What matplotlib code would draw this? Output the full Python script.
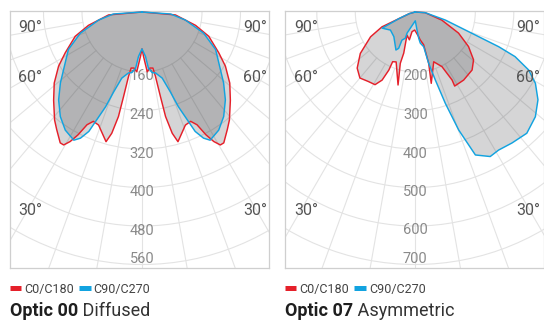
import numpy as np
import matplotlib.pyplot as plt
from matplotlib.lines import Line2D

plt.rcParams['font.family'] = ['Roboto', 'DejaVu Sans']

# gamma = degrees from nadir, cd = intensity (cd/klm), one list pair per half plane
# Optic 00 (symmetric: C180 = C0, C270 = C90)
o00_c0_gamma = [0, 2, 5, 8, 11, 11.8, 12.3, 12.7, 14, 15.5, 21, 24, 26, 27.5, 29,
                30.5, 32, 36, 39, 45, 51, 57, 62, 70, 76, 85, 90]
o00_c0_cd = [112, 128, 160, 153, 154, 172, 215, 258, 295, 315, 287, 284, 296, 323, 343,
             356, 356, 337, 324, 295, 270, 242, 216, 183, 150, 105, 35]
o00_c90_gamma = [0, 4.5, 6.5, 9.5, 12.5, 17, 19.5, 21, 23, 24, 26, 28, 33, 38, 43.5,
                 49, 63, 71, 79.5, 86, 90]
o00_c90_cd = [112, 128, 153, 163, 165, 179, 211, 246, 283, 307, 327, 337, 328, 311, 287,
              260, 207, 171, 127, 95, 35]

# Optic 07 (asymmetric)
o07_c0_gamma = [7.8, 10, 14.3, 14.6, 12.6, 20.3, 26, 28.4, 28, 35.4, 44.4, 50.6, 57,
                64, 73, 86, 90]
o07_c0_cd = [109, 118, 132, 182, 234, 182, 202, 245, 262, 261, 255, 240, 209,
             169, 116, 70, 44]
o07_c180_gamma = [2, 9.5, 12, 19.8, 15.7, 16.3, 13.3, 21, 24.5, 24.5, 26, 29, 34, 40,
                  46, 53, 61, 66, 68, 75, 90]
o07_c180_cd = [91, 96, 118, 108, 155, 183, 239, 183, 186, 210, 241, 260, 262, 268,
               254, 223, 177, 139, 90, 60, 44]
o07_c90_gamma = [5.4, 7.4, 9.1, 13.6, 14.6, 16.4, 18.2, 20.2, 22.8, 27.4, 31.1, 36.4,
                 42.6, 48.9, 54.4, 59.3, 62.9, 65.9, 67.4, 69.4, 75, 86, 90]
o07_c90_cd = [91, 113, 126, 137, 182, 228, 294, 371, 447, 467, 463, 467,
              472, 458, 436, 407, 375, 328, 279, 201, 125, 70, 44]
o07_c270_gamma = [0, 17, 21.3, 20.8, 25.4, 24.6, 27, 41, 54, 64, 68, 75, 90]
o07_c270_cd = [67, 88, 103, 117, 125, 148, 155, 129, 124, 140, 90, 60, 44]

legend_labels = ['C0/C180', 'C90/C270']
angle_labels = ['90°', '60°', '30°']

RED = '#e5202a'
BLUE = '#12a3e0'
SHADE = '#2d2e33'
GRID = '#e3e3e3'

W, H = 544, 322
fig = plt.figure(figsize=(W / 100, H / 100), dpi=100)


def polar_xy(gamma, cd, r0, side):
    g = np.radians(np.asarray(gamma, float))
    r = np.clip(np.asarray(cd, float) - r0, 0, None)
    return side * r * np.sin(g), -r * np.cos(g)


def outline(lg, lcd, rg, rcd, r0):
    xl, yl = polar_xy(lg, lcd, r0, -1)
    xr, yr = polar_xy(rg, rcd, r0, 1)
    return np.concatenate([xl[::-1], xr]), np.concatenate([yl[::-1], yr])


def panel(box, center, step, curves, label_x, title, subtitle):
    l, t, r, b = box
    cx, cy = center
    k = 38.5 / step          # px per cd/klm
    r0 = 17 / k              # radial origin offset
    ax = fig.add_axes([l / W, 1 - b / H, (r - l) / W, (b - t) / H])
    ax.set_xlim((l - cx) / k, (r - cx) / k)
    ax.set_ylim(-(b - cy) / k, (cy - t) / k)
    ax.set_autoscale_on(False)
    ax.set_xticks([])
    ax.set_yticks([])
    for s in ax.spines.values():
        s.set_color('#cfcfcf')
        s.set_linewidth(0.9)

    inner = 2 * step - r0
    for n in range(2, 8):
        ax.add_patch(plt.Circle((0, 0), n * step - r0, fill=False, ec=GRID, lw=0.8, zorder=1))
    for a in range(-80, 81, 10):
        ar = np.radians(a)
        ax.plot([inner * np.sin(ar), 3000 * np.sin(ar)], [-inner * np.cos(ar), -3000 * np.cos(ar)],
                color=GRID, lw=0.8, zorder=1)
    for n in range(2, 8):
        ypx = min((n * step - r0) * k + 4.5, (b - cy) - 9)
        ax.text(0, -ypx / k, str(n * step), ha='center', va='center', color='#8a8a8a',
                fontsize=10.5, zorder=2)

    for (lg, lcd, rg, rcd, col) in curves:
        x, y = outline(lg, lcd, rg, rcd, r0)
        ax.fill(x, y, color=SHADE, alpha=0.2, lw=0, zorder=3)
    for (lg, lcd, rg, rcd, col) in curves:
        x, y = outline(lg, lcd, rg, rcd, r0)
        ax.plot(x, y, color=col, lw=1.05, zorder=4, solid_joinstyle='round')

    for lab, yf in zip(angle_labels, [0.936, 0.741, 0.222]):
        ax.text(label_x[0], yf, lab, transform=ax.transAxes, ha='left', va='center',
                fontsize=11.5, color='#555555', zorder=5)
        ax.text(label_x[1], yf, lab, transform=ax.transAxes, ha='right', va='center',
                fontsize=11.5, color='#555555', zorder=5)

    handles = [Line2D([], [], color=RED, lw=3.6, solid_capstyle='butt'),
               Line2D([], [], color=BLUE, lw=3.6, solid_capstyle='butt')]
    ax.legend(handles, legend_labels, loc='center left', bbox_to_anchor=(l / W, 1 - 289 / H),
              bbox_transform=fig.transFigure, ncol=2, frameon=False, fontsize=9,
              handlelength=0.9, handletextpad=0.25, columnspacing=0.45, borderpad=0,
              borderaxespad=0, labelcolor='#444444')

    tt = fig.text(l / W, 1 - 316.5 / H, title, fontsize=13, fontweight='bold',
                  color='#1e1e1e', va='baseline')
    ax.annotate(' ' + subtitle, xy=(1, 0), xycoords=tt, va='bottom', ha='left',
                fontsize=13, color='#333333')


panel((9.5, 11, 269, 268), (142, 12), 80,
      [(o00_c0_gamma, o00_c0_cd, o00_c0_gamma, o00_c0_cd, RED),
       (o00_c90_gamma, o00_c90_cd, o00_c90_gamma, o00_c90_cd, BLUE)],
      (0.033, 0.992), 'Optic 00', 'Diffused')

panel((284.7, 11, 543.5, 268), (415.3, 12), 100,
      [(o07_c180_gamma, o07_c180_cd, o07_c0_gamma, o07_c0_cd, RED),
       (o07_c270_gamma, o07_c270_cd, o07_c90_gamma, o07_c90_cd, BLUE)],
      (0.035, 0.988), 'Optic 07', 'Asymmetric')

fig.savefig('out.png', dpi=100, facecolor='white')
